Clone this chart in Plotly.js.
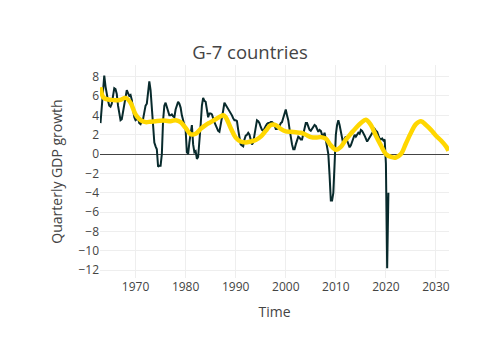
<!DOCTYPE html>
<html>
<head>
<meta charset="utf-8">
<script src="https://cdn.plot.ly/plotly-3.0.1.min.js"></script>
<style>html,body{margin:0;padding:0;background:#fff;}#chart{width:500px;height:360px;}</style>
</head>
<body>
<div id="chart"></div>
<script>
// Quarterly GDP growth, G-7, from 1963 Q1 (4 values per year)
var gdpStartYear = 1963;
var gdpGrowth = [
  3.2, 5.0, 6.8, 8.1,
  7.0, 6.0, 5.5, 5.0,
  4.9, 5.2, 6.0, 6.8,
  6.7, 6.2, 5.0, 4.0,
  3.5, 3.6, 4.3, 5.2,
  5.8, 6.6, 6.3, 6.0,
  6.1, 5.6, 4.6, 3.8,
  3.5, 3.6, 3.7, 3.2,
  3.1, 3.4, 3.6, 4.3,
  5.0, 5.2, 6.5, 7.5,
  6.6, 5.0, 3.2, 1.2,
  0.8, 0.5, -1.3, -1.2,
  -1.2, 0.0, 3.5, 5.0,
  5.3, 4.8, 4.4, 4.0,
  4.0, 4.1, 3.9, 3.8,
  4.6, 5.0, 5.4, 5.2,
  4.8, 4.0, 3.5, 3.2,
  2.5, 0.2, 0.0, 1.2,
  2.2, 3.0, 1.0, 0.2,
  0.3, -0.5, -0.3, 1.0,
  3.0, 5.0, 5.8, 5.5,
  5.4, 4.6, 3.8, 4.2,
  4.2, 4.1, 3.6, 3.3,
  3.0, 2.6, 2.4, 2.3,
  3.2, 3.8, 4.5, 5.3,
  5.1, 4.8, 4.6, 4.5,
  4.3, 4.0, 3.7, 3.5,
  3.5, 3.4, 2.5, 1.6,
  1.0, 0.9, 0.8, 1.5,
  1.9, 2.0, 2.2, 2.0,
  1.5, 1.0, 1.2, 2.0,
  2.8, 3.5, 3.4, 3.2,
  2.8, 2.5, 2.4, 2.7,
  2.9, 3.1, 3.2, 3.2,
  3.3, 3.3, 3.2, 3.0,
  2.6, 2.6, 2.7, 2.9,
  3.2, 3.3, 3.8, 4.0,
  4.6, 4.0, 3.5, 2.6,
  1.6, 1.0, 0.5, 0.5,
  1.0, 1.5, 1.8, 1.7,
  1.5, 1.5, 2.0, 2.6,
  3.2, 3.2, 2.8, 2.5,
  2.4, 2.6, 2.8, 3.0,
  2.9, 2.6, 2.3, 2.5,
  2.4, 2.0, 1.8, 2.2,
  1.5, 1.0, 0.0, -2.2,
  -4.8, -4.8, -4.0, -1.0,
  2.0, 3.0, 3.5, 3.0,
  2.3, 1.5, 1.0, 1.6,
  1.8, 1.4, 1.0, 0.7,
  0.9, 1.3, 1.8, 2.0,
  1.8, 2.0, 2.2, 2.1,
  2.5, 2.4, 2.2, 1.9,
  1.6, 1.3, 1.5, 1.7,
  2.0, 2.2, 2.4, 2.6,
  2.4, 2.3, 1.9, 1.6,
  1.5, 1.6, 1.4, 1.5,
  -1.0, -11.8, -4.0
];

// Smoothed trend / projection (yellow)
var trendYears = [1963, 1963.5, 1964, 1965, 1966, 1967, 1968, 1969, 1970, 1971, 1972, 1973, 1974, 1975, 1976, 1977, 1978, 1979,
  1980, 1981, 1982, 1983, 1984, 1985, 1986, 1987, 1987.5, 1988, 1989, 1990, 1991, 1992, 1993, 1994, 1995, 1996, 1997, 1998, 1999,
  2000, 2001, 2002, 2003, 2004, 2005, 2006, 2007, 2008, 2009, 2010, 2011, 2012, 2013, 2014, 2015, 2016, 2017, 2018, 2019,
  2020, 2021, 2022, 2023, 2024, 2025, 2026, 2027, 2028, 2029, 2030, 2031, 2032, 2032.5];
var trendValues = [6.9, 5.9, 5.7, 5.6, 5.55, 5.6, 5.8, 5.3, 4.1, 3.5, 3.3, 3.35, 3.4, 3.45, 3.45, 3.4, 3.5, 3.3,
  2.7, 2.05, 2.1, 2.6, 3.0, 3.3, 3.6, 3.9, 4.0, 3.8, 2.7, 1.7, 1.3, 1.2, 1.3, 1.45, 1.8, 2.4, 3.0, 3.0, 2.6,
  2.35, 2.3, 2.25, 2.2, 2.0, 1.75, 1.7, 1.75, 1.6, 0.9, 0.45, 0.75, 1.5, 2.1, 2.7, 3.2, 3.55, 3.0, 1.9, 0.9,
  0.0, -0.3, -0.35, 0.0, 1.1, 2.2, 3.1, 3.4, 3.0, 2.5, 1.9, 1.4, 0.8, 0.35];

var gdpX = gdpGrowth.map(function (v, i) { return gdpStartYear + i * 0.25; });

var traces = [
  {x: gdpX, y: gdpGrowth, type: 'scatter', mode: 'lines',
   line: {color: '#082a2c', width: 2}, name: 'G-7'},
  {x: trendYears, y: trendValues, type: 'scatter', mode: 'lines',
   line: {color: '#FFD700', width: 4.5, shape: 'spline', smoothing: 1}, name: 'trend'}
];

var layout = {
  width: 500, height: 360,
  paper_bgcolor: '#fff', plot_bgcolor: '#fff',
  showlegend: false,
  font: {family: '"Open Sans", verdana, arial, sans-serif', color: '#444', size: 12},
  title: {text: 'G-7 countries', x: 0.5, xanchor: 'center', y: 0.853, yanchor: 'middle', font: {size: 18.5}},
  margin: {l: 100, r: 51, t: 65, b: 82},
  xaxis: {title: {text: 'Time', font: {size: 14}, standoff: 13}, range: [1962.9, 2032.6], dtick: 10, tick0: 1970,
          gridcolor: '#eee', zeroline: false, showline: false, automargin: false},
  yaxis: {title: {text: 'Quarterly GDP growth', font: {size: 14}}, range: [-12.8, 9.2], dtick: 2,
          gridcolor: '#eee', zeroline: true, zerolinecolor: '#444', zerolinewidth: 1, showline: false}
};

Plotly.newPlot('chart', traces, layout, {displayModeBar: false, staticPlot: true});
</script>
</body>
</html>
